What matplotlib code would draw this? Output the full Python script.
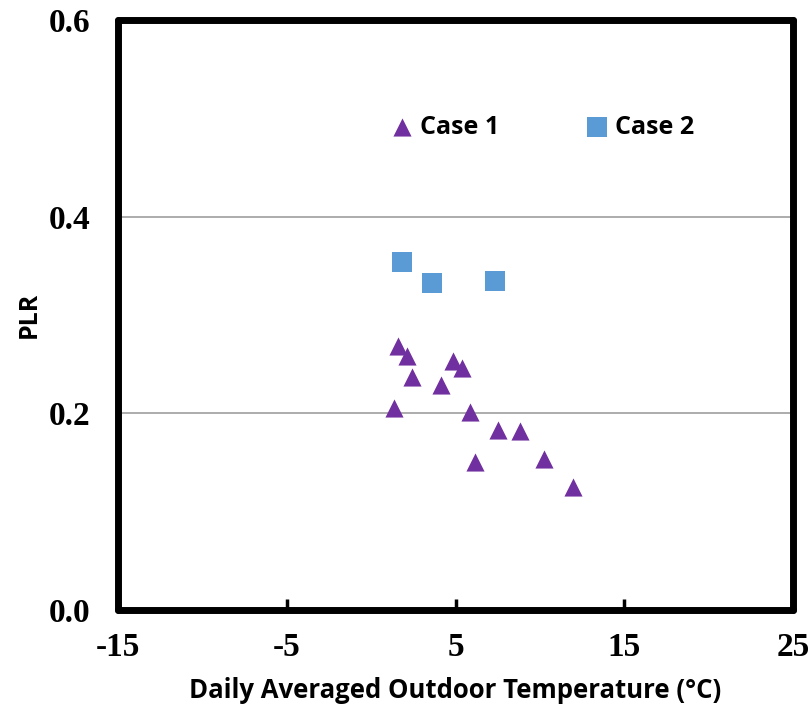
import numpy as np
import matplotlib.pyplot as plt

# Case 1 (triangles) and Case 2 (squares)
case1_t = [1.61, 2.13, 2.42, 4.87, 5.39, 4.12, 1.37, 5.86, 7.50, 8.84, 6.16, 10.24, 11.96]
case1_plr = [0.268, 0.258, 0.237, 0.253, 0.246, 0.229, 0.205, 0.201, 0.183, 0.182, 0.151, 0.154, 0.125]
case2_t = [1.85, 3.63, 7.36]
case2_plr = [0.354, 0.333, 0.335]

xticks = [-15, -5, 5, 15, 25]
yticks = [0.0, 0.2, 0.4, 0.6]

fig = plt.figure(figsize=(8.11, 7.09), dpi=100)
ax = fig.add_axes([0.1455, 0.1396, 0.978 - 0.1455, 0.9718 - 0.1396])

ax.scatter(case1_t, case1_plr, marker='^', s=170, color='#7030A0', linewidths=0, label='Case 1', zorder=3)
ax.scatter(case2_t, case2_plr, marker='s', s=188, color='#5B9BD5', linewidths=0, label='Case 2', zorder=3)

ax.set_xlim(-15, 25)
ax.set_ylim(0, 0.6)
ax.set_xticks(xticks)
ax.set_yticks(yticks)
tick_font = {'family': 'Liberation Serif', 'weight': 'bold', 'size': 24}
ax.set_xticklabels([str(v) for v in xticks], fontdict=tick_font)
ax.set_yticklabels(['%.1f' % v for v in yticks], fontdict=tick_font)
ax.tick_params(axis='x', direction='in', length=8, width=2.5, pad=16)
ax.tick_params(axis='y', direction='in', length=0, pad=20)
ax.yaxis.grid(True, color='#A6A6A6', linewidth=1.3)
ax.set_axisbelow(True)
for sp in ax.spines.values():
    sp.set_linewidth(5)
    sp.set_capstyle('round')

ax.set_xlabel('Daily Averaged Outdoor Temperature (°C)', fontfamily='Open Sans', fontweight='bold', fontsize=18.5, labelpad=10)
ax.set_ylabel('PLR', fontfamily='Open Sans', fontweight='bold', fontsize=18, labelpad=5)

ax.legend(loc='center left', bbox_to_anchor=(0.402, 0.8186), ncol=2, frameon=False,
          prop={'family': 'Open Sans', 'weight': 'bold', 'size': 18},
          handlelength=1.0, handletextpad=0.22, columnspacing=3.4,
          borderpad=0, borderaxespad=0, markerscale=1.0)

fig.savefig('out.png')
